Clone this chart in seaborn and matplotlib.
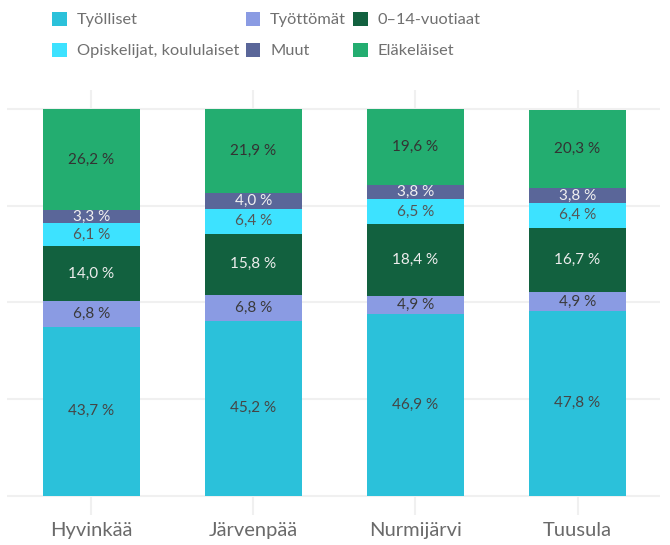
import numpy as np
import pandas as pd
import matplotlib
matplotlib.use("Agg")
from matplotlib import pyplot as plt
from matplotlib.patches import Patch
import seaborn as sns

# Data
municipalities = ["Hyvinkää", "Järvenpää", "Nurmijärvi", "Tuusula"]
groups = ["Työlliset", "Työttömät", "0–14-vuotiaat", "Opiskelijat, koululaiset", "Muut", "Eläkeläiset"]
tyolliset = [43.7, 45.2, 46.9, 47.8]
tyottomat = [6.8, 6.8, 4.9, 4.9]
lapset = [14.0, 15.8, 18.4, 16.7]
opiskelijat = [6.1, 6.4, 6.5, 6.4]
muut = [3.3, 4.0, 3.8, 3.8]
elakelaiset = [26.2, 21.9, 19.6, 20.3]

colors = ["#2BC1DA", "#8A9BE3", "#12613F", "#3DE2FF", "#5A6699", "#23AD70"]
text_colors = ["#454545", "#3A3A3A", "#EDEDED", "#555555", "#F0F0F0", "#333333"]

sns.set_theme(style="white")
plt.rcParams["font.family"] = ["Lato", "DejaVu Sans"]

values = np.array([tyolliset, tyottomat, lapset, opiskelijat, muut, elakelaiset])
cum = values.cumsum(axis=0)

fig = plt.figure(figsize=(6.7, 5.45), dpi=100)
ax = fig.add_axes([0.0104, 0.055, 0.975, 0.78])

# draw cumulative totals top-down so each layer covers the ones above it
for k in range(len(groups) - 1, -1, -1):
    df = pd.DataFrame({"kunta": municipalities, "arvo": cum[k]})
    sns.barplot(data=df, x="kunta", y="arvo", color=colors[k], width=0.6,
                saturation=1, ax=ax, zorder=3, linewidth=0, edgecolor="none")

for k in range(len(groups)):
    for i in range(len(municipalities)):
        mid = cum[k, i] - values[k, i] / 2
        ax.text(i, mid, f"{values[k, i]:.1f} %".replace(".", ","),
                ha="center", va="center", fontsize=11,
                color=text_colors[k], zorder=5)

ax.set_ylim(-5, 105)
ax.set_xlim(-0.52, 3.51)
ax.set_yticks([0, 25, 50, 75, 100])
ax.set_yticklabels([])
ax.grid(True, axis="both", color="#F0F0F0", linewidth=1.5, zorder=0)
ax.set_axisbelow(True)
for s in ax.spines.values():
    s.set_visible(False)
ax.set_xlabel("")
ax.set_ylabel("")
ax.tick_params(axis="x", length=0, pad=5, labelsize=14.5, labelcolor="#6A6A6A")
ax.tick_params(axis="y", length=0)

order = [0, 3, 1, 4, 2, 5]
handles = [Patch(facecolor=colors[k], edgecolor="none") for k in order]
labels = [groups[k] for k in order]
fig.legend(handles, labels, ncol=3, loc="upper left", bbox_to_anchor=(0.068, 0.99),
           frameon=False, fontsize=11.8, labelcolor="#707070",
           handlelength=0.9, handleheight=0.9, handletextpad=0.6,
           columnspacing=0.4, labelspacing=0.95, borderaxespad=0)

fig.savefig("out.png", dpi=100)
